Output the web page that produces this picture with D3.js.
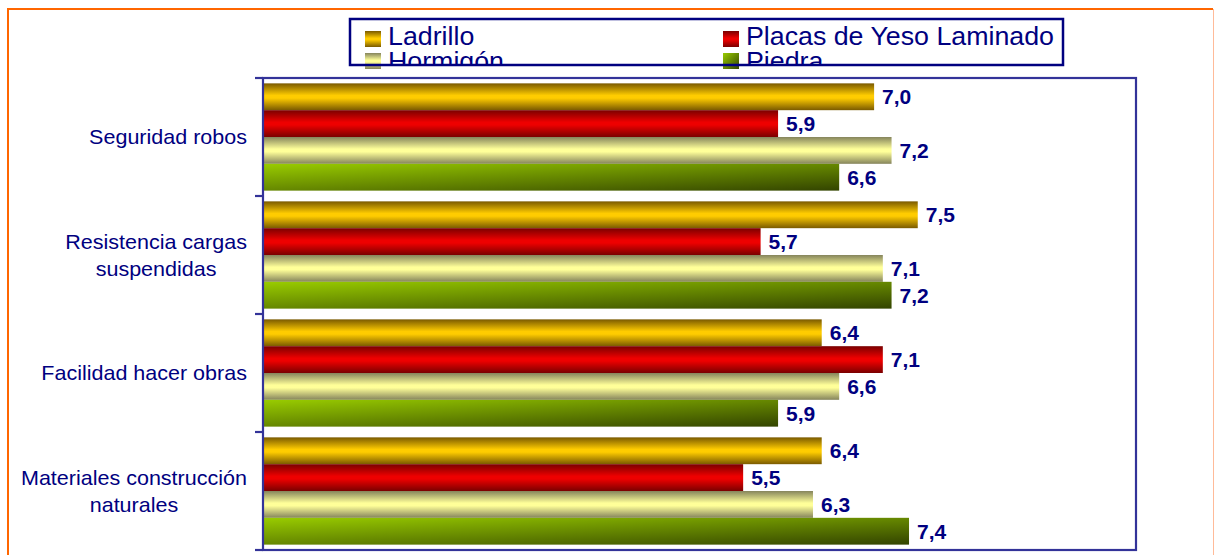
<!DOCTYPE html>
<html>
<head>
<meta charset="utf-8">
<script src="https://cdn.jsdelivr.net/npm/d3@7"></script>
<style>
  body { margin: 0; background: #fff; }
  svg { display: block; font-family: Arial, "Liberation Sans", sans-serif; }
</style>
</head>
<body>
<svg width="1214" height="555"></svg>
<script>
// Data
const categories = [
  ["Seguridad robos"],
  ["Resistencia cargas", "suspendidas"],
  ["Facilidad hacer obras"],
  ["Materiales construcción", "naturales"]
];
const seriesNames = ["Ladrillo", "Placas de Yeso Laminado", "Hormigón", "Piedra"];
const ladrillo = [7.0, 7.5, 6.4, 6.4];
const placas = [5.9, 5.7, 7.1, 5.5];
const hormigon = [7.2, 7.1, 6.6, 6.3];
const piedra = [6.6, 7.2, 5.9, 7.4];
const seriesValues = [ladrillo, placas, hormigon, piedra];

const svg = d3.select("svg");
const navy = "#000080";
const frameColor = "#333399";
// text in the original is a bit wider than Arial
const stretch = 1.05;

// gradients for the bars
const defs = svg.append("defs");
const grads = [
  {id: "g0", edge: "#7a5a00", mid: "#ffcc00", kind: "v"},
  {id: "g1", edge: "#7a0000", mid: "#ee0000", kind: "v"},
  {id: "g2", edge: "#85845c", mid: "#ffff99", kind: "v"},
  {id: "g3", edge: "#334400", mid: "#99cc00", kind: "d"}
];
grads.forEach(g => {
  if (g.kind === "v") {
    const lg = defs.append("linearGradient").attr("id", g.id)
      .attr("x1", 0).attr("y1", 0).attr("x2", 0).attr("y2", 1);
    lg.append("stop").attr("offset", "0%").attr("stop-color", g.edge);
    lg.append("stop").attr("offset", "45%").attr("stop-color", g.mid);
    lg.append("stop").attr("offset", "55%").attr("stop-color", g.mid);
    lg.append("stop").attr("offset", "100%").attr("stop-color", g.edge);
  } else {
    const lg = defs.append("linearGradient").attr("id", g.id)
      .attr("x1", 0).attr("y1", 0).attr("x2", 1).attr("y2", 1);
    lg.append("stop").attr("offset", "0%").attr("stop-color", g.mid);
    lg.append("stop").attr("offset", "100%").attr("stop-color", g.edge);
  }
});

// outer orange frame (right edge is faint in the original)
svg.append("path")
  .attr("d", "M8,600 V9 H1213")
  .attr("fill", "none")
  .attr("stroke", "#ff6600")
  .attr("stroke-width", 2);
svg.append("line")
  .attr("x1", 1213.5).attr("x2", 1213.5).attr("y1", 9).attr("y2", 555)
  .attr("stroke", "#ffbb99")
  .attr("stroke-width", 1);

// scales
const margin = {top: 78, right: 1136, bottom: 550, left: 263};
const x = d3.scaleLinear().domain([0, 10]).range([margin.left, margin.right]);
const y = d3.scaleBand().domain(d3.range(categories.length))
  .range([margin.top, margin.bottom]).padding(0);
const ySub = d3.scaleBand().domain(d3.range(seriesNames.length))
  .range([0, y.bandwidth()]).paddingInner(0).paddingOuter(0.2);

// bars
const groups = svg.selectAll("g.cat")
  .data(categories)
  .enter().append("g")
  .attr("class", "cat")
  .attr("transform", (d, i) => `translate(0,${y(i)})`);

groups.each(function(c, ci) {
  const g = d3.select(this);
  const rows = seriesValues.map((vals, si) => ({si: si, v: vals[ci]}));
  g.selectAll("rect").data(rows).enter().append("rect")
    .attr("x", x(0))
    .attr("y", d => ySub(d.si))
    .attr("width", d => x(d.v) - x(0))
    .attr("height", ySub.bandwidth())
    .attr("fill", d => `url(#g${d.si})`);
  g.selectAll("text.val").data(rows).enter().append("text")
    .attr("class", "val")
    .attr("x", d => x(d.v) + 8)
    .attr("y", d => ySub(d.si) + ySub.bandwidth() / 2)
    .attr("dy", "0.36em")
    .attr("fill", navy)
    .style("font-size", "21px")
    .style("font-weight", "bold")
    .text(d => d.v.toFixed(1).replace(".", ","));
});

// plot frame and category ticks
svg.append("rect")
  .attr("x", margin.left).attr("y", margin.top)
  .attr("width", margin.right - margin.left)
  .attr("height", margin.bottom - margin.top)
  .attr("fill", "none")
  .attr("stroke", frameColor)
  .attr("stroke-width", 2.2);
const tickYs = d3.range(categories.length).map(i => y(i)).concat([margin.bottom]);
svg.selectAll("line.tick").data(tickYs).enter().append("line")
  .attr("class", "tick")
  .attr("x1", margin.left - 8).attr("x2", margin.left)
  .attr("y1", d => d).attr("y2", d => d)
  .attr("stroke", frameColor)
  .attr("stroke-width", 2.2);

// category labels: block right-aligned, lines centred inside block
groups.each(function(lines, ci) {
  const holder = d3.select(this).append("g");
  const t = holder.append("text")
    .attr("fill", navy)
    .style("font-size", "20.5px")
    .attr("text-anchor", "middle");
  const lh = 26.5;
  const y0 = y.bandwidth() / 2 - (lines.length - 1) * lh / 2;
  const spans = t.selectAll("tspan").data(lines).enter().append("tspan")
    .attr("x", 0)
    .attr("y", (d, i) => y0 + i * lh)
    .attr("dy", "0.36em")
    .text(d => d);
  let w = 0;
  spans.each(function() { w = Math.max(w, this.getComputedTextLength()); });
  holder.attr("transform", `translate(${247 - stretch * w / 2},0) scale(${stretch},1)`);
});

// legend
const legend = svg.append("g");
defs.append("clipPath").attr("id", "legclip")
  .append("rect").attr("x", 350).attr("y", 19).attr("width", 713).attr("height", 45);
const legTexts = svg.append("g").attr("clip-path", "url(#legclip)");
const legX = [365, 723];
const legSwY = [31, 53];
const legTxtY = [45, 69.5];
seriesNames.forEach((name, i) => {
  const col = i % 2, row = Math.floor(i / 2);
  legend.append("rect")
    .attr("x", legX[col]).attr("y", legSwY[row])
    .attr("width", 16).attr("height", 16)
    .attr("fill", `url(#g${i})`);
  legTexts.append("text")
    .attr("transform", `translate(${legX[col] + 23},${legTxtY[row]}) scale(${stretch},1)`)
    .attr("fill", navy)
    .style("font-size", "25.5px")
    .text(name);
});
svg.append("rect")
  .attr("x", 350).attr("y", 19)
  .attr("width", 713).attr("height", 46)
  .attr("fill", "none")
  .attr("stroke", navy)
  .attr("stroke-width", 2.5);
</script>
</body>
</html>
